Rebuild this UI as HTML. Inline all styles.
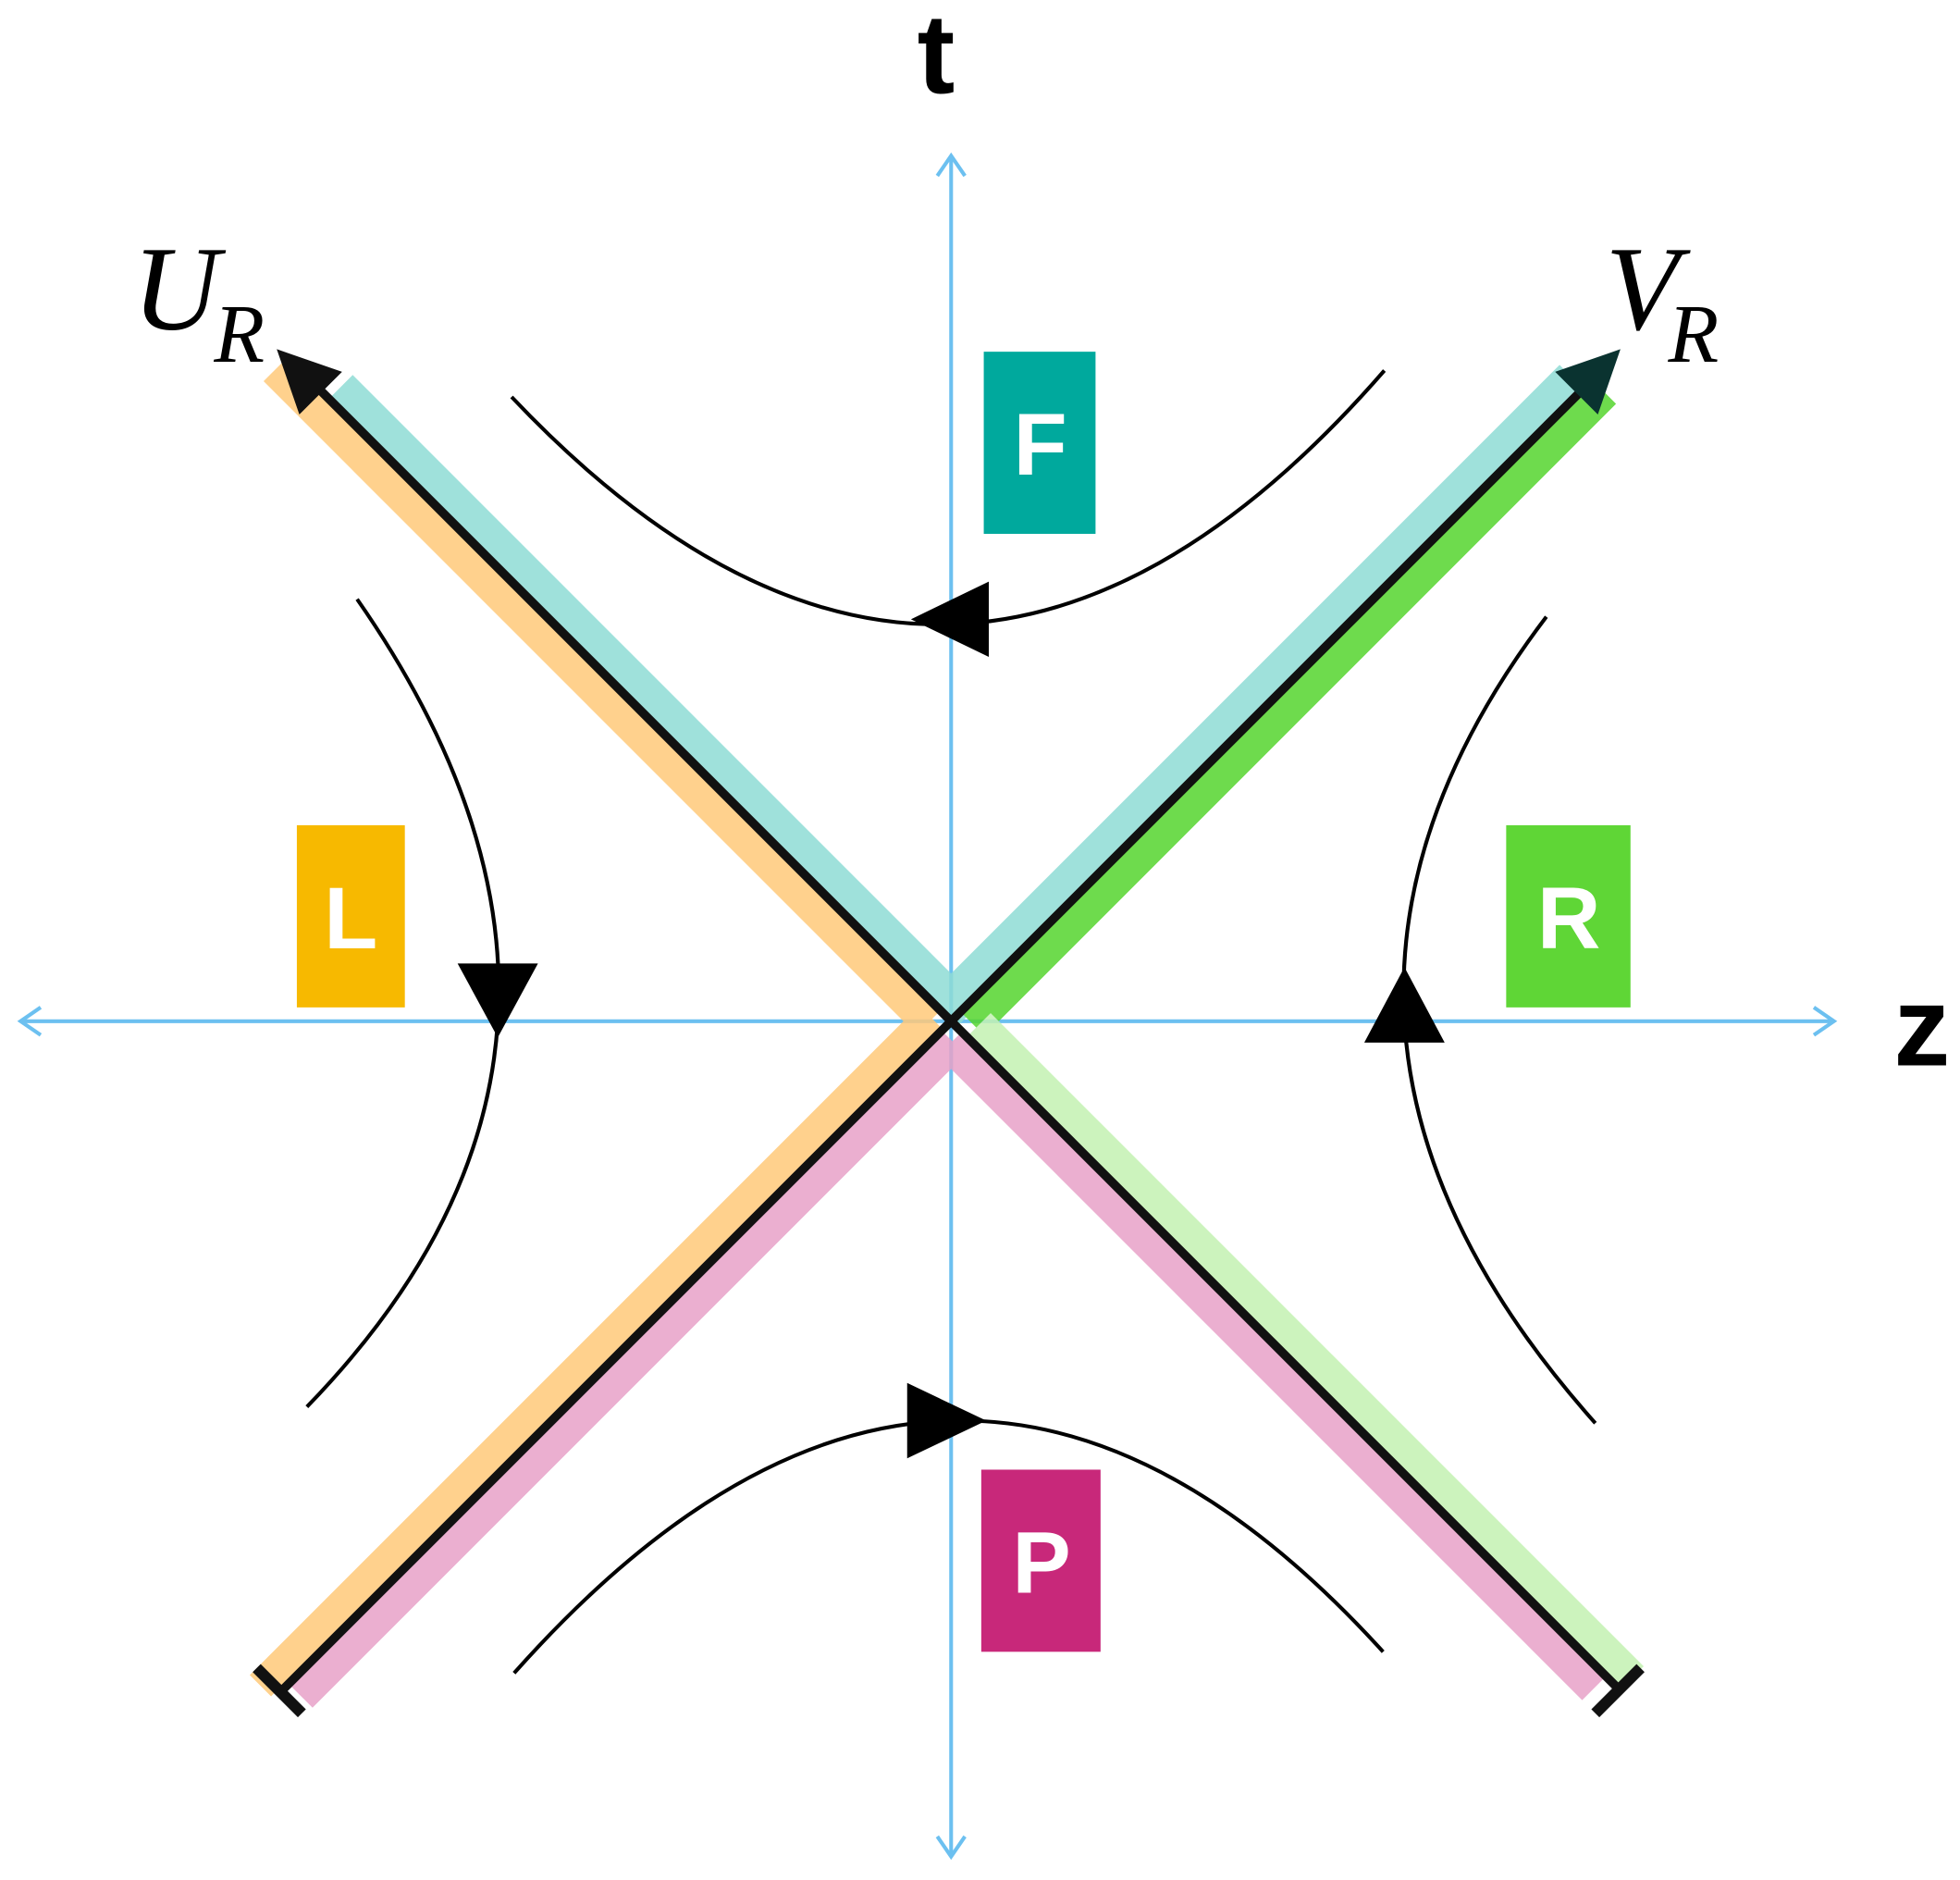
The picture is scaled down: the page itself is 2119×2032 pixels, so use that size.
<!DOCTYPE html>
<html><head><style>html,body{margin:0;padding:0;background:#fff}</style></head><body>
<svg width="2119" height="2027" viewBox="0 0 1560 1493" xmlns="http://www.w3.org/2000/svg">
<rect width="1560" height="1493" fill="#fff"/>
<g stroke="#6cc0f0" stroke-width="3" fill="none">
<line x1="757" y1="124" x2="757" y2="1478"/>
<line x1="16" y1="813" x2="1460" y2="813"/>
<polyline points="746,140 757,124 768,140"/>
<polyline points="746,1462 757,1478 768,1462"/>
<polyline points="32,802 16,813 32,824"/>
<polyline points="1444,802 1460,813 1444,824"/>
</g>
<g stroke-width="24" stroke-linecap="butt" opacity="0.85">
<line x1="218" y1="295" x2="738" y2="815" stroke="#ffc97a"/>
<line x1="272" y1="307" x2="772" y2="807" stroke="#8fdcd5"/>
<line x1="1250" y1="299" x2="745" y2="804" stroke="#8fdcd5"/>
<line x1="1278" y1="313" x2="775" y2="816" stroke="#55d52e"/>
<line x1="207" y1="1342" x2="740" y2="809" stroke="#ffc97a"/>
<line x1="240" y1="1351" x2="760" y2="831" stroke="#e8a2c8"/>
<line x1="1268" y1="1345" x2="755" y2="832" stroke="#e8a2c8"/>
<line x1="1300" y1="1335" x2="780" y2="815" stroke="#c4f2b2"/>
</g>
<g stroke="#111" stroke-width="7">
<line x1="757" y1="813" x2="235" y2="291"/>
<line x1="757" y1="813" x2="1275" y2="295"/>
<line x1="757" y1="813" x2="222" y2="1348"/>
<line x1="757" y1="813" x2="1288" y2="1344"/>
<line x1="204" y1="1328" x2="240" y2="1364" stroke-width="9"/>
<line x1="1306" y1="1328" x2="1270" y2="1364" stroke-width="9"/>
</g>
<polygon points="220,278 272,296 238,330" fill="#111"/>
<polygon points="1290,278 1272,330 1238,296" fill="#0a3330"/>
<g stroke="#000" stroke-width="3" fill="none">
<path d="M407,316 Q759.5,688.5 1102,295"/>
<path d="M409,1332 Q759,938.5 1101,1315"/>
<path d="M284,477 Q528,827.5 244,1120"/>
<path d="M1231,491 Q985.5,814 1270,1133"/>
</g>
<g fill="#000">
<polygon points="725,493 787,463 787,523"/>
<polygon points="785,1131 722,1101 722,1161"/>
<polygon points="396,826 364,767 428,767"/>
<polygon points="1118,770 1086,830 1150,830"/>
</g>
<rect x="783" y="280" width="89" height="145" fill="#00a99d"/>
<rect x="236" y="657" width="86" height="145" fill="#f7b900"/>
<rect x="1199" y="657" width="99" height="145" fill="#5fd636"/>
<rect x="781" y="1170" width="95" height="145" fill="#c8287a"/>
<g font-family="Liberation Sans, sans-serif" font-weight="bold" font-size="70" fill="#fff" text-anchor="middle">
<text x="828" y="378">F</text>
<text x="279" y="755">L</text>
<text x="1249" y="755">R</text>
<text x="829" y="1268">P</text>
</g>
<g font-family="Liberation Sans, sans-serif" font-weight="bold" font-size="90" fill="#000" text-anchor="middle">
<text x="745" y="74">t</text>
<text x="1530" y="848">z</text>
</g>
<g font-family="Liberation Serif, serif" font-style="italic" fill="#000">
<text x="105" y="262" font-size="96">U</text>
<text x="170" y="288" font-size="66">R</text>
<text x="1278" y="262" font-size="96">V</text>
<text x="1328" y="288" font-size="66">R</text>
</g>
</svg>
</body></html>
